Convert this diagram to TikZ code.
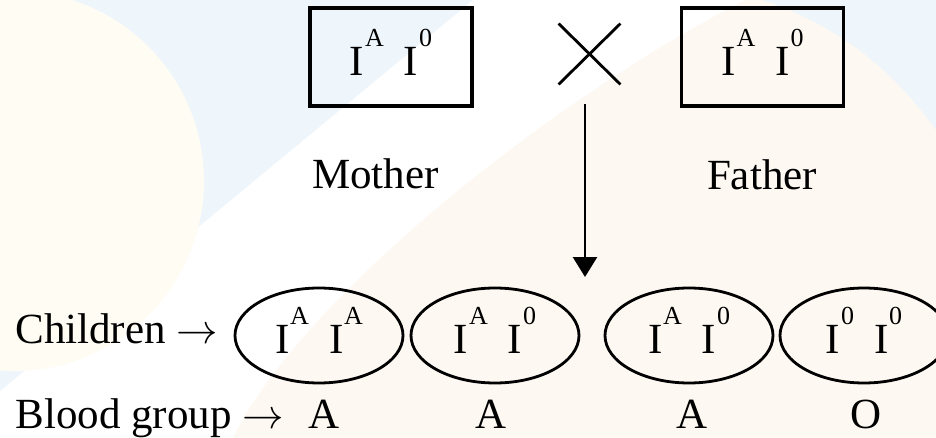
\documentclass[tikz,border=0pt]{standalone}
\usepackage{fontspec}
\setmainfont{Liberation Serif}
\definecolor{paleblue}{RGB}{238,246,252}
\definecolor{palepeach}{RGB}{253,248,241}
\definecolor{palecream}{RGB}{255,252,243}
\usepackage{tikz}
\usetikzlibrary{arrows.meta,positioning,shapes.geometric,shapes.misc}

\newcommand{\allele}[1]{I\kern0.4pt\raisebox{0.68em}{\fontsize{13}{13}\selectfont #1}}
\newcommand{\genotype}[2]{\allele{#1}\hspace{10pt}\allele{#2}}

\begin{document}
\begin{tikzpicture}[x=0.5pt, y=-0.5pt,
    font=\fontsize{21.5}{24}\selectfont,
    parentbox/.style={draw, line width=1.6pt, minimum width=81pt, minimum height=49pt,
                      inner sep=0pt, text depth=5pt},
    childbox/.style={draw, ellipse, line width=1.4pt, minimum width=84pt, minimum height=47.5pt,
                     inner sep=0pt, text depth=5pt},
    tag/.style={anchor=base, inner sep=0pt}]
    \useasboundingbox (0,0) rectangle (936,438);
    \begin{scope}
      \clip (0,0) rectangle (936,438);
      \fill[white] (0,0) rectangle (936,438);
      \fill[paleblue] (0,0) -- (473,0) -- (0,391) -- cycle;
      \fill[palepeach] (233,438) .. controls (300,300) and (550,100) .. (745,0)
                       -- (936,0) -- (936,438) -- cycle;
      \fill[paleblue] (763,0) .. controls (850,30) and (900,80) .. (936,130) -- (936,0) -- cycle;
      \fill[palecream] (14,181) circle [radius=190];
    \end{scope}

    \node[parentbox] (mgeno) at (391,57) {\genotype{A}{0}};
    \node[parentbox] (fgeno) at (762.5,57) {\genotype{A}{0}};
    \node[draw, cross out, line width=1.4pt, minimum width=29.5pt, minimum height=29pt,
          inner sep=0pt] (cross) at (589.5,54) {};
    \node[tag] (mlabel) at (375.5,189) {Mother};
    \node[tag] (flabel) at (762,190) {Father};

    \coordinate (split) at (585,277);
    \draw[line width=1.3pt, -{Triangle[width=12pt,length=10pt]}]
      ([shift={(-4.5,20)}]cross.south) -- (split);

    \node[tag, anchor=base west] (kids) at (15,343) {Children $\rightarrow$};
    \node[tag, anchor=base west] (blood) at (15,428) {Blood group $\rightarrow$};

    \foreach \i/\x/\a/\b/\gx/\g in {1/319/A/A/324/A, 2/495/A/0/491/A,
                                    3/689/A/0/692/A, 4/864/0/0/866/O} {
      \node[childbox] (child\i) at (\x,335.5) {\genotype{\a}{\b}};
      \node[tag] (group\i) at (\gx,428) {\g};
    }
  \end{tikzpicture}
\end{document}
